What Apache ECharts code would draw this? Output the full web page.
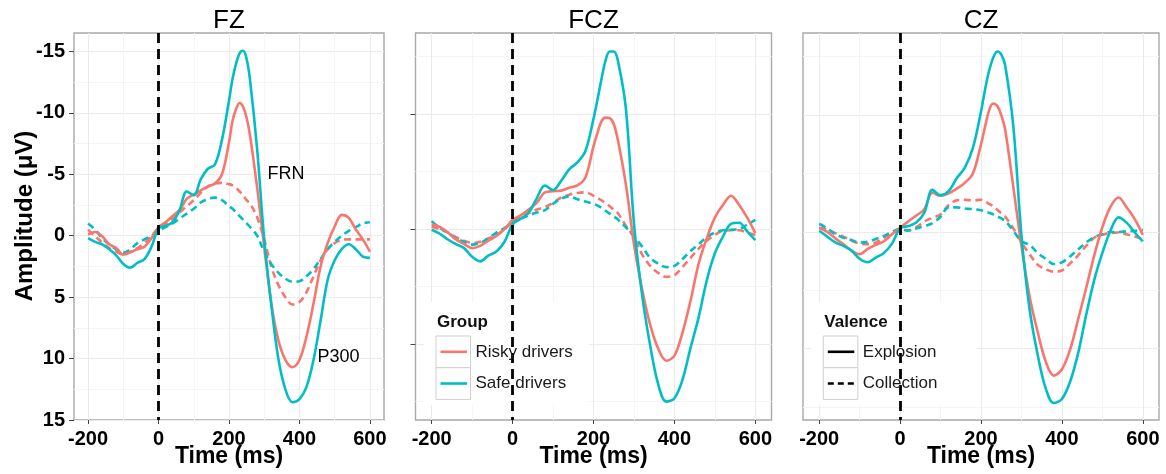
<!DOCTYPE html>
<html>
<head>
<meta charset="utf-8">
<script src="https://cdn.jsdelivr.net/npm/echarts@6.0.0/dist/echarts.min.js"></script>
<style>
  html, body { margin: 0; padding: 0; background: #fff; }
  #chart { width: 1166px; height: 474px; }
</style>
</head>
<body>
<div id="chart"></div>
<script>
// time points (ms) shared by every curve
const TIME = [-200, -180, -160, -140, -120, -100, -80, -60, -40, -20, 0, 20, 40, 60, 80, 100, 120, 140, 160, 180,
  200, 210, 220, 230, 240, 250, 260, 280, 300, 320, 340, 360, 380, 400, 420, 440, 460, 480, 500, 520, 540, 560, 580, 600];

// FZ
const FZ_RISKY_EXP = [-0.1, -0.3, 0.05, 0.7, 1.0, 1.55, 1.35, 1.1, 0.9, 0.2, -0.7, -1.1, -1.6, -2.1, -3.0, -3.35, -3.7, -4.0, -4.25, -5.0,
  -7.6, -9.35, -10.3, -10.8, -10.5, -9.6, -8.1, -3.9, 0.9, 5.5, 8.5, 10.1, 10.7, 10.1, 8.2, 5.5, 2.5, 0.6, -0.75, -1.7, -1.45, -0.5, 0.3, 1.3];
const FZ_SAFE_EXP = [0.2, 0.5, 0.7, 1.1, 1.6, 2.3, 2.6, 2.2, 1.9, 0.9, -0.6, -0.8, -1.1, -2.1, -3.6, -3.3, -4.6, -5.45, -5.8, -7.8,
  -11.0, -12.75, -14.0, -14.85, -15.05, -14.4, -12.6, -7.0, 0.3, 5.6, 10.0, 12.5, 13.55, 13.3, 12.3, 10.1, 6.9, 3.6, 2.0, 1.1, 0.7, 1.1, 1.7, 1.8];
const FZ_RISKY_COL = [-0.5, 0.05, 0.55, 1.0, 1.3, 1.55, 1.3, 1.0, 0.6, 0.0, -0.6, -0.9, -1.4, -1.9, -2.4, -2.9, -3.5, -4.0, -4.25, -4.3,
  -4.2, -4.1, -3.9, -3.6, -3.3, -2.9, -2.6, -1.5, 0.3, 2.5, 4.0, 5.0, 5.6, 5.4, 4.6, 3.3, 2.0, 1.1, 0.6, 0.35, 0.3, 0.3, 0.3, 0.3];
const FZ_SAFE_COL = [-1.0, -0.5, 0.2, 0.7, 1.1, 1.4, 1.1, 0.6, 0.3, 0.0, -0.4, -0.7, -1.0, -1.4, -1.8, -2.2, -2.7, -3.0, -3.1, -2.9,
  -2.4, -2.2, -1.9, -1.6, -1.3, -1.0, -0.7, 0.0, 1.3, 2.3, 3.0, 3.5, 3.75, 3.7, 3.3, 2.7, 1.9, 1.1, 0.5, 0.0, -0.4, -0.7, -1.0, -1.1];

// FCZ
const FCZ_RISKY_EXP = [-0.4, -0.2, 0.3, 0.9, 1.3, 1.65, 1.45, 1.0, 0.6, 0.0, -0.8, -1.2, -1.7, -2.3, -3.2, -3.3, -3.35, -3.6, -3.8, -4.5,
  -7.2, -8.4, -9.4, -9.7, -9.65, -9.15, -7.8, -3.9, 1.3, 5.2, 8.3, 10.4, 11.45, 11.0, 9.0, 6.2, 3.0, 0.8, -1.0, -2.1, -2.9, -2.1, -1.0, 0.35];
const FCZ_SAFE_EXP = [0.05, 0.4, 0.9, 1.3, 1.65, 2.4, 2.8, 2.3, 1.95, 1.1, -0.4, -0.9, -1.45, -2.7, -3.8, -3.4, -4.2, -5.2, -5.8, -6.8,
  -9.6, -11.3, -13.1, -14.7, -15.45, -15.45, -14.7, -10.5, -0.5, 5.7, 10.1, 13.5, 15.0, 14.7, 13.1, 10.3, 7.65, 4.45, 2.1, 0.65, -0.45, -0.55, 0.2, 0.95];
const FCZ_RISKY_COL = [-0.2, 0.0, 0.3, 0.7, 1.0, 1.2, 1.1, 0.8, 0.5, 0.0, -0.6, -1.0, -1.4, -1.7, -1.9, -2.3, -2.75, -3.0, -3.15, -3.2,
  -2.9, -2.7, -2.5, -2.25, -2.0, -1.7, -1.4, -0.3, 0.7, 2.2, 3.2, 3.8, 4.15, 4.0, 3.3, 2.5, 1.7, 1.0, 0.5, 0.15, 0.1, 0.1, 0.3, 0.5];
const FCZ_SAFE_COL = [-0.7, -0.1, 0.3, 0.8, 1.1, 1.35, 1.2, 0.8, 0.3, -0.1, -0.6, -0.9, -1.2, -1.45, -1.65, -2.2, -2.65, -2.85, -2.6, -2.4,
  -2.2, -2.05, -1.85, -1.6, -1.35, -1.1, -0.85, -0.15, 0.6, 1.5, 2.5, 3.0, 3.3, 3.2, 2.6, 1.9, 1.3, 0.7, 0.3, 0.1, 0.05, 0.0, -0.4, -0.8];

// CZ
const CZ_RISKY_EXP = [-0.35, 0.0, 0.55, 1.05, 1.6, 1.9, 1.45, 1.1, 0.8, 0.2, -0.35, -0.9, -1.4, -1.95, -3.35, -3.1, -3.3, -3.7, -4.2, -5.0,
  -7.5, -9.0, -10.4, -11.0, -10.8, -10.0, -8.7, -3.8, 1.2, 5.5, 8.55, 11.1, 12.3, 11.75, 10.1, 7.5, 4.8, 2.0, -0.4, -2.15, -2.95, -2.1, -1.1, 0.25];
const CZ_SAFE_EXP = [-0.1, 0.4, 0.9, 1.2, 1.6, 2.3, 2.6, 2.2, 1.8, 1.0, -0.3, -0.5, -0.8, -1.65, -3.6, -3.15, -3.5, -4.6, -5.5, -7.2,
  -10.3, -12.2, -13.8, -14.9, -15.45, -15.2, -14.2, -9.0, 0.3, 6.6, 10.5, 13.4, 14.65, 14.3, 12.85, 10.4, 7.1, 4.1, 1.8, -0.1, -1.25, -0.8, 0.05, 0.8];
const CZ_RISKY_COL = [-0.35, -0.2, 0.1, 0.4, 0.75, 1.0, 1.05, 0.9, 0.5, 0.05, -0.2, -0.15, -0.4, -0.9, -1.2, -1.5, -2.3, -2.7, -2.75, -2.7,
  -2.75, -2.6, -2.4, -2.2, -1.9, -1.6, -1.3, -0.3, 0.9, 1.9, 2.8, 3.2, 3.4, 3.3, 2.7, 2.0, 1.2, 0.5, 0.25, 0.1, 0.05, 0.2, 0.4, 0.6];
const CZ_SAFE_COL = [-0.7, -0.3, 0.2, 0.5, 0.7, 0.9, 0.85, 0.6, 0.35, 0.0, -0.25, -0.1, -0.3, -0.5, -0.75, -1.3, -2.1, -2.1, -2.0, -1.95,
  -1.85, -1.75, -1.65, -1.5, -1.35, -1.15, -0.95, -0.1, 0.8, 1.1, 1.8, 2.3, 2.75, 2.6, 2.1, 1.5, 0.9, 0.45, 0.2, 0.0, 0.0, -0.05, -0.1, -0.2];

// ticks
const X_MAJOR = [-200, 0, 200, 400, 600];
const X_MINOR = [-100, 100, 300, 500];
const Y_MAJOR_FZ = [-15, -10, -5, 0, 5, 10, 15];
const Y_MINOR_FZ = [-12.5, -7.5, -2.5, 2.5, 7.5, 12.5];
const Y_MAJOR = [-10, 0, 10];
const Y_MINOR = [-15, -5, 5, 15];
const ONSET = 0;

const GROUPS = ['Risky drivers', 'Safe drivers'];
const VALENCES = ['Explosion', 'Collection'];

const RED = '#F8766D';
const CYAN = '#00BFC4';
const FONT = '"Liberation Sans", Arial, Helvetica, sans-serif';
const TOP = 33;
const HEIGHT = 387;

const PANELS = [
  { title: 'FZ', left: 74, width: 310, yMin: -16.5, yMax: 15, yLabels: true, yTicks: true,
    yMajor: Y_MAJOR_FZ, yMinor: Y_MINOR_FZ,
    curves: [FZ_RISKY_COL, FZ_SAFE_COL, FZ_RISKY_EXP, FZ_SAFE_EXP] },
  { title: 'FCZ', left: 415.5, width: 356, yMin: -17.06, yMax: 16.6, yLabels: false, yTicks: true,
    yMajor: Y_MAJOR, yMinor: Y_MINOR,
    curves: [FCZ_RISKY_COL, FCZ_SAFE_COL, FCZ_RISKY_EXP, FCZ_SAFE_EXP] },
  { title: 'CZ', left: 803, width: 356, yMin: -17.03, yMax: 16.1, yLabels: false, yTicks: false,
    yMajor: Y_MAJOR, yMinor: Y_MINOR,
    curves: [CZ_RISKY_COL, CZ_SAFE_COL, CZ_RISKY_EXP, CZ_SAFE_EXP] }
];

// order matches PANELS[i].curves
const CURVE_STYLES = [
  { color: RED, dash: [7, 4.5] },
  { color: CYAN, dash: [7, 4.5] },
  { color: RED, dash: 'solid' },
  { color: CYAN, dash: 'solid' }
];

const ANNOTATIONS = [
  { text: 'FRN', t: 309, v: -5 },
  { text: 'P300', t: 451, v: 9.9 }
];

const chart = echarts.init(document.getElementById('chart'));

const grids = [], xAxes = [], yAxes = [], series = [], graphics = [];

PANELS.forEach((p, i) => {
  grids.push({
    left: p.left, top: TOP, width: p.width, height: HEIGHT,
    outerBoundsMode: 'none', containLabel: false,
    show: true, borderColor: '#a8a8a8', borderWidth: 1.4
  });

  // major x axis with labels
  xAxes.push({
    type: 'value', gridIndex: i, min: -240, max: 640, position: 'bottom',
    axisLine: { show: false, onZero: false },
    axisTick: { show: true, customValues: X_MAJOR, length: 4, lineStyle: { color: '#444' } },
    axisLabel: { customValues: X_MAJOR, color: '#000', fontWeight: 'bold', fontSize: 20, fontFamily: FONT, margin: 9 },
    splitLine: { show: true, lineStyle: { color: '#ebebeb', width: 1 } }
  });
  // minor x grid
  xAxes.push({
    type: 'value', gridIndex: i, min: -240, max: 640, position: 'top',
    axisLine: { show: false, onZero: false },
    axisTick: { show: false, customValues: X_MINOR },
    axisLabel: { show: false },
    splitLine: { show: true, lineStyle: { color: '#f5f5f5', width: 1 } }
  });

  yAxes.push({
    type: 'value', gridIndex: i, inverse: true, min: p.yMin, max: p.yMax, position: 'left',
    axisLine: { show: false, onZero: false },
    axisTick: { show: p.yTicks, customValues: p.yMajor, length: 5, lineStyle: { color: '#444' } },
    axisLabel: { show: p.yLabels, customValues: p.yMajor, color: '#000', fontWeight: 'bold', fontSize: 20, fontFamily: FONT, margin: 9 },
    splitLine: { show: true, lineStyle: { color: '#ebebeb', width: 1 } }
  });
  yAxes.push({
    type: 'value', gridIndex: i, inverse: true, min: p.yMin, max: p.yMax, position: 'right',
    axisLine: { show: false, onZero: false },
    axisTick: { show: false, customValues: p.yMinor },
    axisLabel: { show: false },
    splitLine: { show: true, lineStyle: { color: '#f5f5f5', width: 1 } }
  });

  p.curves.forEach((values, k) => {
    const st = CURVE_STYLES[k];
    const s = {
      type: 'line', xAxisIndex: 2 * i, yAxisIndex: 2 * i,
      data: TIME.map((t, j) => [t, values[j]]),
      smooth: 0.35, showSymbol: false, symbol: 'none', silent: true,
      lineStyle: { color: st.color, width: 2.6, type: st.dash },
      itemStyle: { color: st.color },
      z: 3
    };
    if (k === 0) {
      // stimulus onset line
      s.markLine = {
        silent: true, symbol: 'none', animation: false,
        label: { show: false },
        lineStyle: { color: '#000', width: 2.8, type: [10, 6] },
        data: [{ xAxis: ONSET }]
      };
    }
    if (i === 0 && k === 3) {
      s.markPoint = {
        symbol: 'circle', symbolSize: 0, silent: true, animation: false,
        label: {
          show: true, position: [0, 0], align: 'left', verticalAlign: 'middle',
          color: '#000', fontSize: 18, fontFamily: FONT,
          formatter: (d) => d.name
        },
        data: ANNOTATIONS.map(a => ({ name: a.text, coord: [a.t, a.v] }))
      };
    }
    series.push(s);
  });

  // panel title and x axis title
  graphics.push({
    type: 'text', x: p.left + p.width / 2, y: 21, z: 10,
    style: { text: p.title, align: 'center', verticalAlign: 'middle', fill: '#000', font: '26px ' + FONT }
  });
  graphics.push({
    type: 'text', x: p.left + p.width / 2, y: 457, z: 10,
    style: { text: 'Time (ms)', align: 'center', verticalAlign: 'middle', fill: '#000', font: 'bold 23px ' + FONT }
  });
});

// y axis title
graphics.push({
  type: 'text', x: 25, y: 216, rotation: Math.PI / 2, z: 10,
  style: { text: 'Amplitude (\u03bcV)', align: 'center', verticalAlign: 'middle', fill: '#000', font: 'bold 24px ' + FONT }
});

// legend boxes drawn in panel 2 (Group) and panel 3 (Valence)
function legendBlock(x0, title, items) {
  graphics.push({
    type: 'rect', shape: { x: x0 - 12, y: 302, width: 165, height: 103 }, z: 5,
    style: { fill: '#fff' }
  });
  graphics.push({
    type: 'text', x: x0 + 1, y: 322, z: 6,
    style: { text: title, align: 'left', verticalAlign: 'middle', fill: '#111', font: 'bold 17px ' + FONT }
  });
  items.forEach((it, k) => {
    const y = 336 + k * 31.7;
    graphics.push({
      type: 'rect', shape: { x: x0, y: y, width: 34.5, height: 31.7 }, z: 6,
      style: { fill: '#fff', stroke: '#cfcfcf', lineWidth: 1 }
    });
    graphics.push({
      type: 'line', shape: { x1: x0 + 4.5, y1: y + 15.8, x2: x0 + 31, y2: y + 15.8 }, z: 7,
      style: { stroke: it.color, lineWidth: 2.6, lineDash: it.dash }
    });
    graphics.push({
      type: 'text', x: x0 + 39.5, y: y + 16, z: 7,
      style: { text: it.label, align: 'left', verticalAlign: 'middle', fill: '#1a1a1a', font: '17px ' + FONT }
    });
  });
}

legendBlock(436, 'Group', [
  { label: GROUPS[0], color: RED, dash: null },
  { label: GROUPS[1], color: CYAN, dash: null }
]);
legendBlock(823.3, 'Valence', [
  { label: VALENCES[0], color: '#000', dash: null },
  { label: VALENCES[1], color: '#000', dash: [6, 4] }
]);

chart.setOption({
  animation: false,
  backgroundColor: '#fff',
  grid: grids,
  xAxis: xAxes,
  yAxis: yAxes,
  series: series,
  graphic: graphics
});
</script>
</body>
</html>
